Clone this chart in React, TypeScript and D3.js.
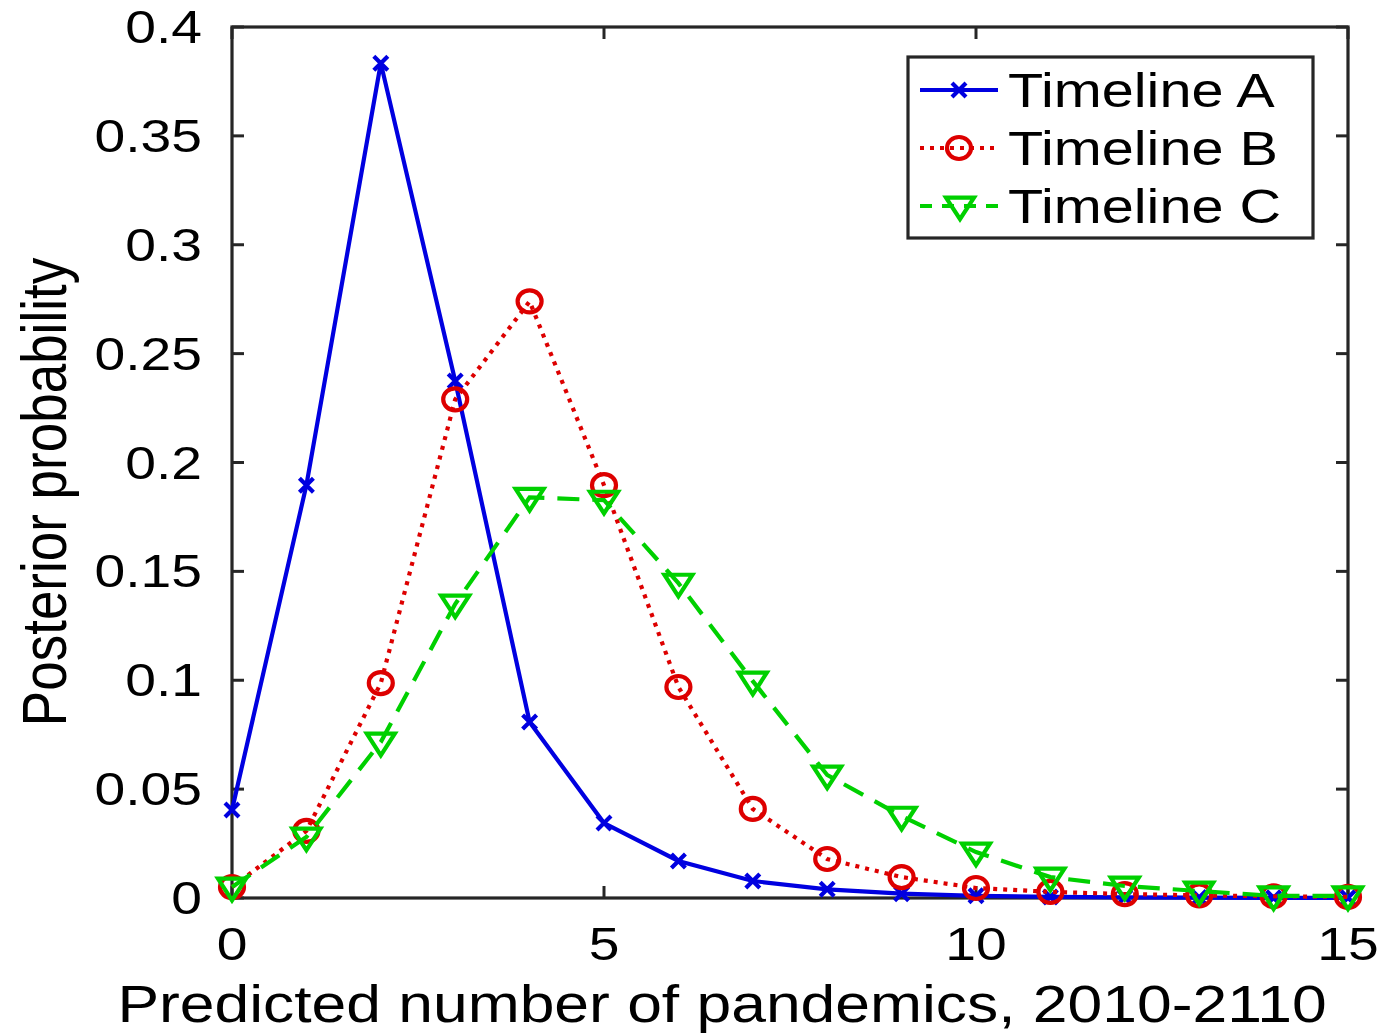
import React from "react";
import * as d3 from "d3";

const xValues = [0, 1, 2, 3, 4, 5, 6, 7, 8, 9, 10, 11, 12, 13, 14, 15];
const timelineA = [0.0404, 0.1896, 0.3834, 0.2374, 0.0808, 0.0344, 0.017, 0.0078, 0.004, 0.002, 0.001, 0.0005, 0.0003, 0.0002, 0.0001, 0.0001];
const timelineB = [0.005, 0.0308, 0.0987, 0.229, 0.274, 0.1896, 0.0969, 0.0409, 0.0179, 0.0096, 0.0046, 0.0028, 0.0018, 0.0012, 0.0008, 0.0005];
const timelineC = [0.005, 0.028, 0.0716, 0.135, 0.184, 0.1827, 0.1446, 0.0996, 0.0565, 0.0376, 0.0211, 0.0096, 0.0055, 0.0032, 0.001, 0.001];
const seriesNames = ["Timeline A", "Timeline B", "Timeline C"];
const xTicks = [0, 5, 10, 15];
const yTicks = [0, 0.05, 0.1, 0.15, 0.2, 0.25, 0.3, 0.35, 0.4];
const yTickLabels = ["0", "0.05", "0.1", "0.15", "0.2", "0.25", "0.3", "0.35", "0.4"];

const W = 1379, H = 1035;
const L = 232, R = 1348, T = 27, B = 898;
const SX = 1.2;
const FONT = "'Liberation Sans', Arial, sans-serif";
const AX = "#262626";

const x = d3.scaleLinear().domain([0, 15]).range([L, R]);
const y = d3.scaleLinear().domain([0, 0.4]).range([B, T]);

const blue = "#0000e0";
const red = "#dd0000";
const green = "#00d000";
const SW = 4.2;

function Marker({ kind, cx, cy, color }: { kind: string; cx: number; cy: number; color: string }) {
  if (kind === "x") {
    const s = 7;
    return (
      <path d={`M${cx - s},${cy - s}L${cx + s},${cy + s}M${cx - s},${cy + s}L${cx + s},${cy - s}`} stroke={color} strokeWidth={SW} fill="none" />
    );
  }
  if (kind === "o") {
    return <ellipse cx={cx} cy={cy} rx={12} ry={11} stroke={color} strokeWidth={SW} fill="none" />;
  }
  const w = 14, h = 12;
  return (
    <path d={`M${cx - w},${cy - h * 0.7}L${cx + w},${cy - h * 0.7}L${cx},${cy + h * 1.1}Z`} stroke={color} strokeWidth={SW} fill="none" strokeLinejoin="miter" />
  );
}

function T_({ x0, y0, anchor, size, children, rotate }: any) {
  const tr = rotate
    ? `translate(${x0},${y0}) rotate(-90) scale(1,${SX})`
    : `translate(${x0},${y0}) scale(${SX},1)`;
  return (
    <text transform={tr} textAnchor={anchor} fontSize={size} fontFamily={FONT} fill="#000">
      {children}
    </text>
  );
}

export default function App() {
  const series = [
    { name: seriesNames[0], data: timelineA, color: blue, dash: "none", marker: "x" },
    { name: seriesNames[1], data: timelineB, color: red, dash: "4 6", marker: "o" },
    { name: seriesNames[2], data: timelineC, color: green, dash: "22 13", marker: "v" },
  ];
  const line = d3.line<number>().x((_, i) => x(xValues[i])).y((d) => y(d));
  const tick = 12;
  return (
    <svg width={W} height={H} style={{ position: "absolute", left: 0, top: 0, background: "#fff" }}>
      <rect x={0} y={0} width={W} height={H} fill="#fff" />
      {yTicks.map((t) => (
        <g key={"y" + t}>
          <line x1={L} x2={L + tick} y1={y(t)} y2={y(t)} stroke={AX} strokeWidth={3} />
          <line x1={R} x2={R - tick} y1={y(t)} y2={y(t)} stroke={AX} strokeWidth={3} />
        </g>
      ))}
      {xTicks.map((t) => (
        <g key={"x" + t}>
          <line x1={x(t)} x2={x(t)} y1={B} y2={B - tick} stroke={AX} strokeWidth={3} />
          <line x1={x(t)} x2={x(t)} y1={T} y2={T + tick} stroke={AX} strokeWidth={3} />
        </g>
      ))}
      <rect x={L} y={T} width={R - L} height={B - T} fill="none" stroke={AX} strokeWidth={3.2} />
      {series.map((s) => (
        <g key={s.name}>
          <path d={line(s.data) || ""} fill="none" stroke={s.color} strokeWidth={SW} strokeDasharray={s.dash} />
          {s.data.map((v, i) => (
            <Marker key={i} kind={s.marker} cx={x(xValues[i])} cy={y(v)} color={s.color} />
          ))}
        </g>
      ))}
      {yTicks.map((t, i) => (
        <T_ key={"yl" + t} x0={202} y0={y(t) + 16} anchor="end" size={46}>
          {yTickLabels[i]}
        </T_>
      ))}
      {xTicks.map((t) => (
        <T_ key={"xl" + t} x0={x(t)} y0={960} anchor="middle" size={46}>
          {String(t)}
        </T_>
      ))}
      <T_ x0={722} y0={1022} anchor="middle" size={52}>
        Predicted number of pandemics, 2010-2110
      </T_>
      <T_ x0={66} y0={492} anchor="middle" size={53} rotate>
        Posterior probability
      </T_>
      <rect x={908} y={57} width={405} height={181} fill="#fff" stroke={AX} strokeWidth={3.2} />
      {series.map((s, i) => {
        const ly = 90 + i * 58;
        return (
          <g key={"lg" + i}>
            <line x1={920} x2={998} y1={ly} y2={ly} stroke={s.color} strokeWidth={SW} strokeDasharray={s.dash === "22 13" ? "12 10" : s.dash} />
            <Marker kind={s.marker} cx={s.marker === "v" ? 960 : 959} cy={ly} color={s.color} />
            <T_ x0={1008} y0={ly + 17} anchor="start" size={48}>
              {s.name}
            </T_>
          </g>
        );
      })}
    </svg>
  );
}
